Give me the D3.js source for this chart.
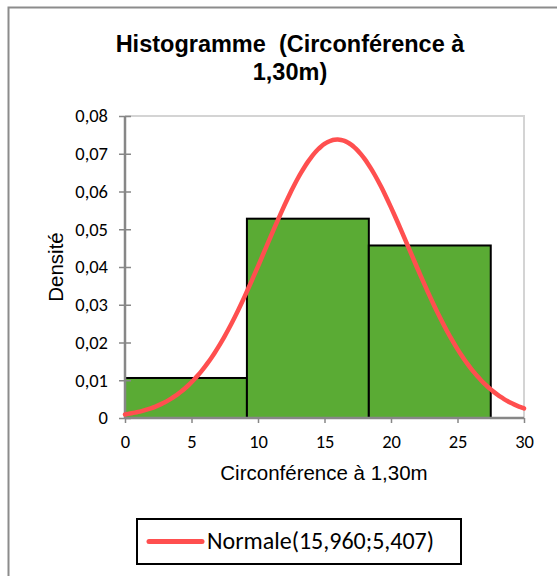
<!DOCTYPE html>
<html>
<head>
<meta charset="utf-8">
<script src="https://cdn.jsdelivr.net/npm/d3@7/dist/d3.min.js"></script>
<style>
  html, body { margin: 0; padding: 0; background: #fff; }
  svg { display: block; }
</style>
</head>
<body>
<svg id="chart" width="557" height="576"></svg>
<script>
// Histogram bins (circumference at 1.30 m) and their densities
const binEdges = [0, 9.167, 18.333, 27.5];
const binDensities = [0.0106, 0.0528, 0.0457];

// Fitted normal distribution parameters
const normalMean = 15.960;
const normalSd = 5.407;

// Axis ticks
const xTicks = [0, 5, 10, 15, 20, 25, 30];
const yTicks = [0, 0.01, 0.02, 0.03, 0.04, 0.05, 0.06, 0.07, 0.08];

const titleLines = ["Histogramme  (Circonférence à", "1,30m)"];
const xLabel = "Circonférence à 1,30m";
const yLabel = "Densité";
const legendLabel = "Normale(15,960;5,407)";

const svg = d3.select("#chart");
const W = 557, H = 576;
const plot = { left: 125, right: 524, top: 116, bottom: 418 };

const x = d3.scaleLinear().domain([0, 30]).range([plot.left, plot.right]);
const y = d3.scaleLinear().domain([0, 0.08]).range([plot.bottom, plot.top]);

const fmtY = v => v === 0 ? "0" : d3.format(".2f")(v).replace(".", ",");
const tickFont = "Calibri, Carlito, 'Open Sans', sans-serif";
const arial = "'Liberation Sans', Arial, sans-serif";
const axisColor = "#878787";

// Outer chart frame (top and left edges visible)
svg.append("path")
  .attr("d", `M8.5,${H + 5} L8.5,7.5 L${W + 5},7.5`)
  .attr("fill", "none").attr("stroke", "#8c8c8c").attr("stroke-width", 2);

// Title
svg.append("text")
  .attr("x", 290).attr("y", 52)
  .attr("text-anchor", "middle")
  .style("white-space", "pre")
  .attr("font-family", arial)
  .attr("font-weight", "bold").attr("font-size", 23.5)
  .selectAll("tspan").data(titleLines).join("tspan")
  .attr("x", 290).attr("dy", (d, i) => i === 0 ? 0 : 28)
  .text(d => d);

// Plot area border (top and right)
svg.append("path")
  .attr("d", `M${plot.left},${plot.top} L${plot.right},${plot.top} L${plot.right},${plot.bottom}`)
  .attr("fill", "none").attr("stroke", "#d4d4d4").attr("stroke-width", 2);

// Histogram bars
const bins = binDensities.map((d, i) => ({ x0: binEdges[i], x1: binEdges[i + 1], d }));
svg.append("g").selectAll("rect").data(bins).join("rect")
  .attr("x", b => x(b.x0))
  .attr("width", b => x(b.x1) - x(b.x0))
  .attr("y", b => y(b.d))
  .attr("height", b => y(0) - y(b.d))
  .attr("fill", "#5aab34")
  .attr("stroke", "#000").attr("stroke-width", 2);

// Axes
const yAxis = d3.axisLeft(y).tickValues(yTicks).tickFormat(fmtY).tickSize(6).tickPadding(11);
const xAxis = d3.axisBottom(x).tickValues(xTicks).tickFormat(d3.format("d")).tickSize(5).tickPadding(12);

const gy = svg.append("g").attr("transform", `translate(${plot.left},0)`).call(yAxis);
const gx = svg.append("g").attr("transform", `translate(0,${plot.bottom})`).call(xAxis);
[gx, gy].forEach(g => {
  g.select(".domain").attr("stroke", axisColor).attr("stroke-width", 2.5);
  g.selectAll(".tick line").attr("stroke", axisColor).attr("stroke-width", 1.5);
  g.selectAll(".tick text").attr("font-family", tickFont).attr("font-size", 18.5).attr("fill", "#000");
});
gx.select(".domain").attr("d", `M${plot.left},0H${plot.right}`);
gy.select(".domain").attr("d", `M0,${plot.bottom}V${plot.top}`);
gy.selectAll(".tick line").attr("x1", -6).attr("x2", 6);

// Normal density curve from the stated parameters
const pdf = v => Math.exp(-0.5 * ((v - normalMean) / normalSd) ** 2) / (normalSd * Math.sqrt(2 * Math.PI));
const curve = d3.range(0, 30.001, 0.25).map(v => [v, pdf(v)]);
svg.append("path")
  .datum(curve)
  .attr("d", d3.line().x(d => x(d[0])).y(d => y(d[1])).curve(d3.curveBasis))
  .attr("fill", "none").attr("stroke", "#ff4f4f").attr("stroke-width", 4.5)
  .attr("stroke-linecap", "round");

// Axis titles
svg.append("text")
  .attr("x", 324).attr("y", 480)
  .attr("text-anchor", "middle")
  .attr("font-family", arial).attr("font-size", 20.5)
  .text(xLabel);
svg.append("text")
  .attr("transform", `translate(63,${(plot.top + plot.bottom) / 2}) rotate(-90)`)
  .attr("text-anchor", "middle")
  .attr("font-family", arial).attr("font-size", 20.5)
  .text(yLabel);

// Legend
const lg = svg.append("g");
lg.append("rect")
  .attr("x", 137).attr("y", 519).attr("width", 324).attr("height", 45)
  .attr("fill", "#fff").attr("stroke", "#000").attr("stroke-width", 2);
lg.append("line")
  .attr("x1", 149).attr("x2", 202).attr("y1", 541.5).attr("y2", 541.5)
  .attr("stroke", "#ff4f4f").attr("stroke-width", 5).attr("stroke-linecap", "round");
lg.append("text")
  .attr("x", 207).attr("y", 548.5)
  .attr("font-family", tickFont).attr("font-size", 24)
  .text(legendLabel);
</script>
</body>
</html>
